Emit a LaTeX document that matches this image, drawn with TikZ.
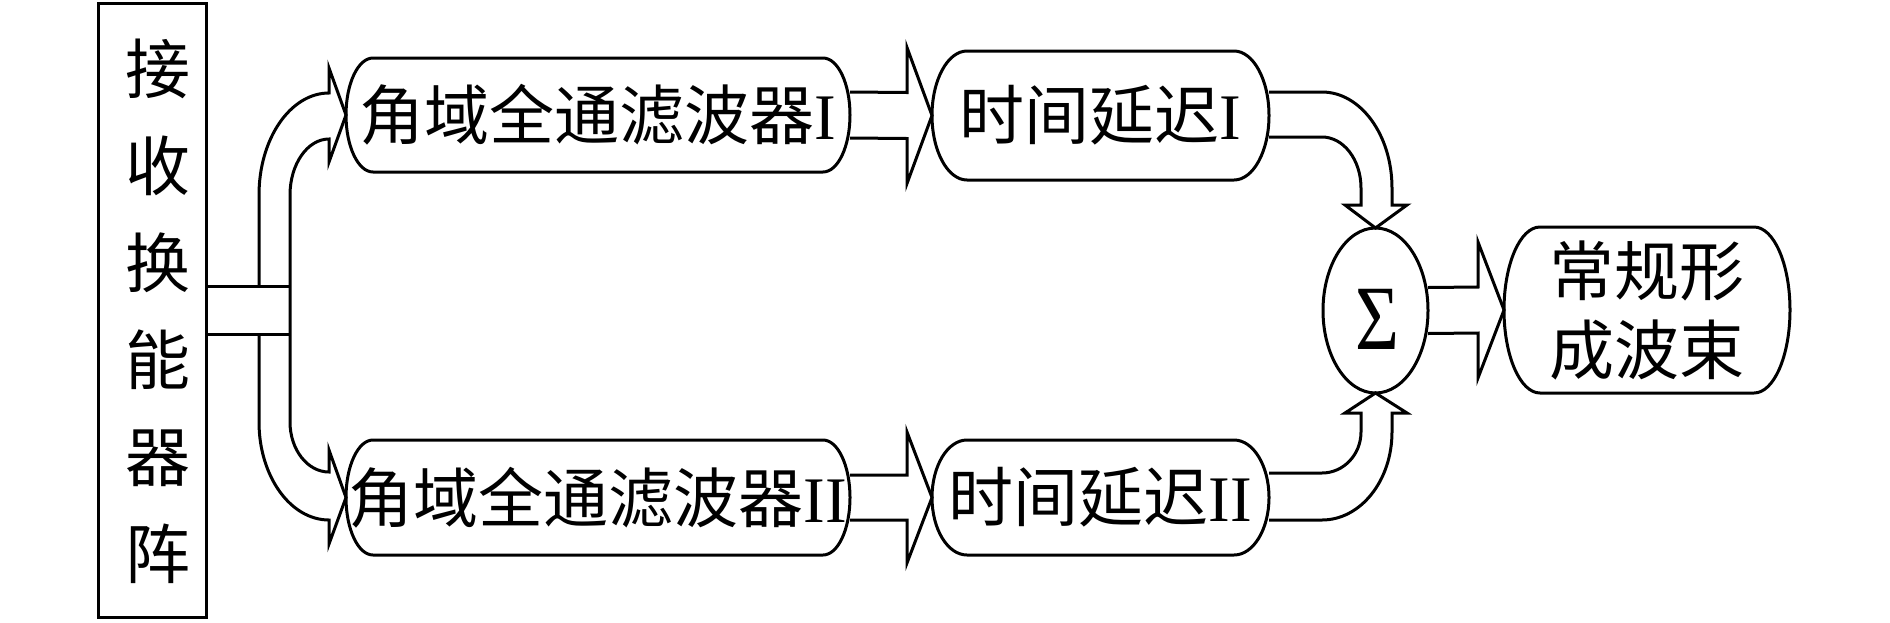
\documentclass[tikz,border=0pt]{standalone}
\usepackage{fontspec}
\setmainfont{Liberation Serif}
\newfontfamily\cjk{Noto Sans CJK SC}
\usetikzlibrary{calc,shapes.geometric}
\newcommand\capsulebox[2]{%
 \draw[ln] ($(#1.north west)+(#2,0)$) -- ($(#1.north east)+(-#2,0)$)
  .. controls ($(#1.north east)+(-0.448*#2,0)$) and ($(#1.north east)!0.448!(#1.east)$) .. (#1.east)
  .. controls ($(#1.south east)!0.448!(#1.east)$) and ($(#1.south east)+(-0.448*#2,0)$) .. ($(#1.south east)+(-#2,0)$)
  -- ($(#1.south west)+(#2,0)$)
  .. controls ($(#1.south west)+(0.448*#2,0)$) and ($(#1.south west)!0.448!(#1.west)$) .. (#1.west)
  .. controls ($(#1.north west)!0.448!(#1.west)$) and ($(#1.north west)+(0.448*#2,0)$) .. cycle;}
\begin{document}
\begin{tikzpicture}[x=0.5pt,y=-0.5pt,
  ln/.style={line width=1.5pt, line join=miter},
  boxnode/.style={rectangle, inner sep=0pt, outer sep=0pt, font=\fontsize{32.5}{40}\selectfont},
]
\useasboundingbox (0,0) rectangle (1890,622);

% left array box
\node[boxnode, draw, ln, minimum width=54pt, minimum height=307pt] (L) at (152,310) {};
\node[inner sep=0pt, align=center, font={\fontsize{32.5}{48.5}\cjk}] (Lt) at (158,311.5) {接\\收\\换\\能\\器\\阵};

% processing boxes
\node[boxnode, minimum width=252pt, minimum height=57pt] (f1) at (598,115) {{\cjk 角域全通滤波器}I};
\node[boxnode, minimum width=252pt, minimum height=57.5pt] (f2) at (598,497.5) {{\cjk 角域全通滤波器}II};
\node[boxnode, minimum width=168.5pt, minimum height=64.5pt] (d1) at (1100.5,115.5) {{\cjk 时间延迟}I};
\node[boxnode, minimum width=168.5pt, minimum height=57.5pt] (d2) at (1100.5,497.5) {{\cjk 时间延迟}II};
\node[boxnode, minimum width=143pt, minimum height=83pt, align=center, font={\fontsize{32.5}{39.5}\cjk}] (O) at (1647,310) {常规形\\成波束};
\capsulebox{f1}{27}
\capsulebox{f2}{27}
\capsulebox{d1}{35}
\capsulebox{d2}{35}
\capsulebox{O}{36}

% summation
\node[ellipse, draw, ln, minimum width=52.5pt, minimum height=82.5pt, inner sep=0pt, outer sep=0pt] (S) at (1375.5,310.5) {};
\node[inner sep=0pt, font=\fontsize{46}{50}\selectfont] (sg) at (1377,319) {\scalebox{0.82}[1]{Σ}};

% stem from array
\draw[ln] ($(L.east)+(0,-24)$) -- (290,286);
\draw[ln] ($(L.east)+(0,24)$) -- (290,334);
% split branches to the two filters
\draw[ln] (259,286) -- (259,195) .. controls (259,138.7) and (290.4,93) .. (329,93)
  -- (329,68) -- (f1.west) -- (329,162) -- (329,139)
  .. controls (307.5,139) and (290,164.1) .. (290,195) -- (290,422)
  .. controls (290,449.6) and (307.5,472) .. (329,472)
  -- (329,450) -- (f2.west) -- (329,544) -- (329,520)
  .. controls (290.4,520) and (259,476.1) .. (259,422) -- (259,334);

% filter -> delay
\draw[ln] ($(f1.east)+(0,-23)$) -- ($(d1.west)+(-25,-23)$) -- ($(d1.west)+(-25,-68)$) -- (d1.west)
  -- ($(d1.west)+(-25,68)$) -- ($(d1.west)+(-25,23)$) -- ($(f1.east)+(0,23)$);
\draw[ln] ($(f2.east)+(0,-22.5)$) -- ($(d2.west)+(-25,-22.5)$) -- ($(d2.west)+(-25,-65.5)$) -- (d2.west)
  -- ($(d2.west)+(-25,65.5)$) -- ($(d2.west)+(-25,22.5)$) -- ($(f2.east)+(0,22.5)$);

% delay -> sum
\draw[ln] ($(d1.east)+(0,-23.5)$) -- (1322,92) .. controls (1360.6,92) and (1392,135) .. (1392,188)
  -- (1392,205) -- (1407,205) -- (S.north) -- (1345,205) -- (1361,205) -- (1361,188)
  .. controls (1361,159.8) and (1343.5,137) .. (1322,137) -- ($(d1.east)+(0,21.5)$);
\draw[ln] ($(d2.east)+(0,-24.5)$) -- (1322,473) .. controls (1343.5,473) and (1361,454.6) .. (1361,432)
  -- (1361,413) -- (1345,413) -- (S.south) -- (1407,413) -- (1392,413) -- (1392,432)
  .. controls (1392,480.6) and (1360.6,520) .. (1322,520) -- ($(d2.east)+(0,22.5)$);

% sum -> output
\draw[ln] ($(S.east)+(0,-23)$) -- ($(O.west)+(-26,-23)$) -- ($(O.west)+(-26,-68)$) -- (O.west)
  -- ($(O.west)+(-26,68)$) -- ($(O.west)+(-26,23)$) -- ($(S.east)+(0,23)$);
\end{tikzpicture}
\end{document}
